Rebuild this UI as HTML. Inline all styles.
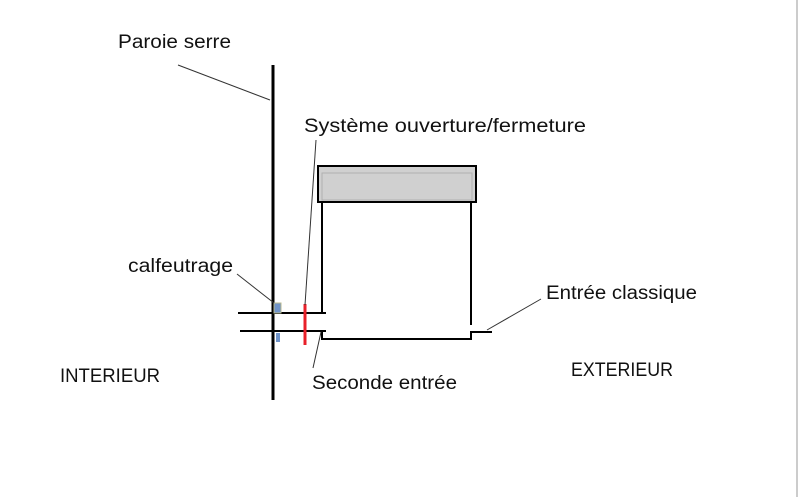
<!DOCTYPE html>
<html><head><meta charset="utf-8"><style>
html,body{margin:0;padding:0;background:#fff;}
svg{display:block;}
text{font-family:"Liberation Sans",sans-serif;font-size:19px;fill:#111;}
</style></head><body>
<svg width="800" height="497" viewBox="0 0 800 497" xmlns="http://www.w3.org/2000/svg">
<rect x="0" y="0" width="800" height="497" fill="#fff"/>
<line x1="797" y1="0" x2="797" y2="497" stroke="#ccc" stroke-width="2"/>
<line x1="273" y1="65" x2="273" y2="400" stroke="#000" stroke-width="3"/>
<line x1="238" y1="313" x2="326" y2="313" stroke="#000" stroke-width="2"/>
<line x1="240" y1="331" x2="326" y2="331" stroke="#000" stroke-width="2"/>
<rect x="274" y="303" width="7" height="10" fill="#6f93c9" stroke="#b8b890" stroke-width="1"/>
<rect x="276" y="333" width="4" height="9" fill="#6f93c9"/>
<line x1="305" y1="304" x2="305" y2="345" stroke="#e8202a" stroke-width="3"/>
<rect x="318" y="166" width="158" height="36" fill="#d0d0d0" stroke="#000" stroke-width="2"/>
<rect x="322" y="173" width="150" height="27" fill="none" stroke="#b0b0b0" stroke-width="1"/>
<line x1="322" y1="202" x2="322" y2="313" stroke="#000" stroke-width="2"/>
<polyline points="322,331 322,339 471,339 471,332 492,332" fill="none" stroke="#000" stroke-width="2"/>
<line x1="471" y1="202" x2="471" y2="325" stroke="#000" stroke-width="2"/>
<g stroke="#333" stroke-width="1">
<line x1="178" y1="65" x2="270" y2="100"/>
<line x1="316" y1="140" x2="305" y2="305"/>
<line x1="237" y1="274" x2="274" y2="303"/>
<line x1="313" y1="368" x2="321" y2="332"/>
<line x1="541" y1="299" x2="487" y2="330"/>
</g>
<text x="118" y="48" textLength="113" lengthAdjust="spacingAndGlyphs">Paroie serre</text>
<text x="304" y="132" textLength="282" lengthAdjust="spacingAndGlyphs">Système ouverture/fermeture</text>
<text x="128" y="272" textLength="105" lengthAdjust="spacingAndGlyphs">calfeutrage</text>
<text x="546" y="299" textLength="151" lengthAdjust="spacingAndGlyphs">Entrée classique</text>
<text x="60" y="382" textLength="100" lengthAdjust="spacingAndGlyphs">INTERIEUR</text>
<text x="571" y="376" textLength="102" lengthAdjust="spacingAndGlyphs">EXTERIEUR</text>
<text x="312" y="389" textLength="145" lengthAdjust="spacingAndGlyphs">Seconde entrée</text>
</svg>
</body></html>
